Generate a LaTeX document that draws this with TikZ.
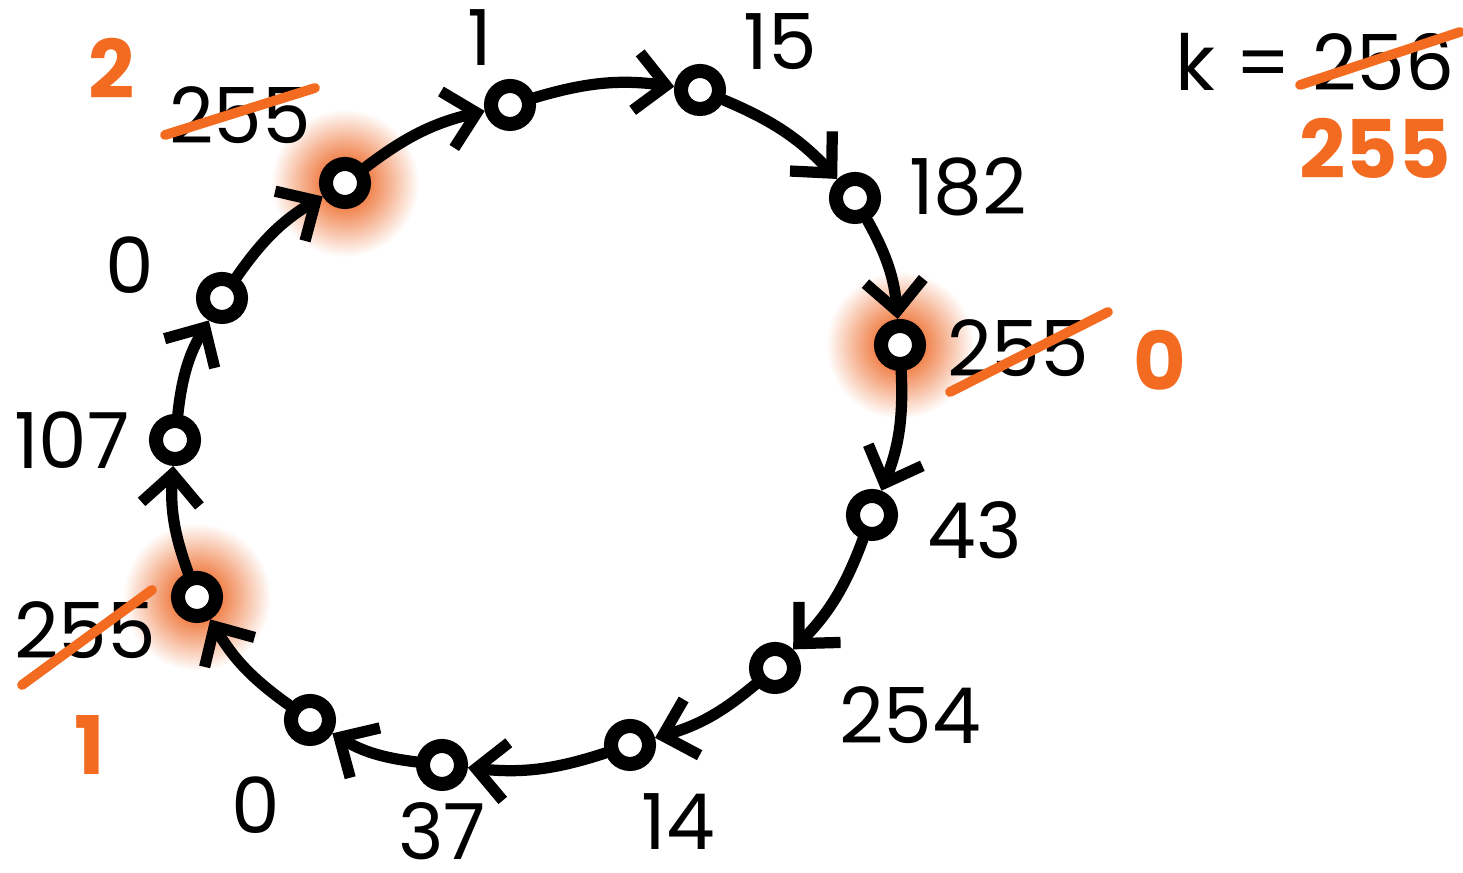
\documentclass[tikz,border=0pt]{standalone}
\usepackage{fontspec}
\setmainfont{Poppins}
\usetikzlibrary{arrows.meta,backgrounds}
\definecolor{mark}{HTML}{F26B21}
\definecolor{halo}{HTML}{F0814A}
\pgfdeclareradialshading{glow}{\pgfpoint{0cm}{0cm}}{color(0bp)=(halo); color(8bp)=(halo); color(15bp)=(halo!60); color(25bp)=(white); color(50bp)=(white)}

\begin{document}
\begin{tikzpicture}[x=1cm,y=1cm,line cap=round,
  ringdot/.style={circle,draw,line width=4pt,fill=white,inner sep=0pt,minimum size=0.38cm},
  ringhop/.style={line width=3.2pt,bend left=12,-{Straight Barb[length=3mm,width=5.8mm]}},
  oldval/.style={inner sep=1pt,font=\fontsize{22}{24}\selectfont},
  newval/.style={inner sep=1pt,text=mark,font=\fontsize{23}{26}\selectfont\bfseries},
  strikeout/.style={draw=mark,line width=2.8pt}]
\useasboundingbox (0,0) rectangle (14.63,8.73);
% ring
\node[ringdot] (n1) at (5.10,7.68) {};
\node[ringdot] (n2) at (7.00,7.83) {};
\node[ringdot] (n3) at (8.55,6.75) {};
\node[ringdot] (n4) at (9.00,5.28) {};
\node[ringdot] (n5) at (8.72,3.58) {};
\node[ringdot] (n6) at (7.75,2.05) {};
\node[ringdot] (n7) at (6.30,1.28) {};
\node[ringdot] (n8) at (4.42,1.08) {};
\node[ringdot] (n9) at (3.10,1.53) {};
\node[ringdot] (n10) at (1.97,2.76) {};
\node[ringdot] (n11) at (1.75,4.33) {};
\node[ringdot] (n12) at (2.22,5.75) {};
\node[ringdot] (n13) at (3.45,6.90) {};
\begin{scope}[on background layer]
\foreach \n in {n4,n10,n13}
  \shade[shading=glow] (\n) circle (0.74);
\end{scope}
\draw[ringhop] (n13) to (n1);
\draw[ringhop] (n1) to (n2);
\draw[ringhop] (n2) to (n3);
\draw[ringhop] (n3) to (n4);
\draw[ringhop] (n4) to (n5);
\draw[ringhop] (n5) to (n6);
\draw[ringhop] (n6) to (n7);
\draw[ringhop] (n7) to (n8);
\draw[ringhop] (n8) to (n9);
\draw[ringhop] (n9) to (n10);
\draw[ringhop] (n10) to (n11);
\draw[ringhop] (n11) to (n12);
\draw[ringhop] (n12) to (n13);
% labels
\node[oldval] (l1) at (4.80,8.35) {1};
\node[oldval] (l2) at (7.80,8.31) {15};
\node[oldval] (l3) at (9.68,6.86) {182};
\node[oldval] (l4) at (10.18,5.25) {255};
\node[oldval] (l5) at (9.75,3.43) {43};
\node[oldval] (l6) at (9.10,1.58) {254};
\node[oldval] (l7) at (6.78,0.51) {14};
\node[oldval] (l8) at (4.42,0.42) {37};
\node[oldval] (l9) at (2.56,0.68) {0};
\node[oldval] (l10) at (0.85,2.43) {255};
\node[oldval] (l11) at (0.72,4.33) {107};
\node[oldval] (l12) at (1.30,6.08) {0};
\node[oldval] (l13) at (2.40,7.58) {255};
\node[oldval] (kval) at (13.15,8.11) {k = 256};
% corrections
\draw[strikeout] (9.50,4.81) -- (11.08,5.61);
\draw[strikeout] (0.22,1.88) -- (1.52,2.83);
\draw[strikeout] (1.65,7.38) -- (3.15,7.85);
\draw[strikeout] (13.00,7.88) -- (14.60,8.41);
\node[newval] (r4) at (11.60,5.13) {0};
\node[newval] (r10) at (0.90,1.28) {1};
\node[newval] (r13) at (1.12,8.05) {2};
\node[newval] (rk) at (13.75,7.25) {255};
\end{tikzpicture}
\end{document}
